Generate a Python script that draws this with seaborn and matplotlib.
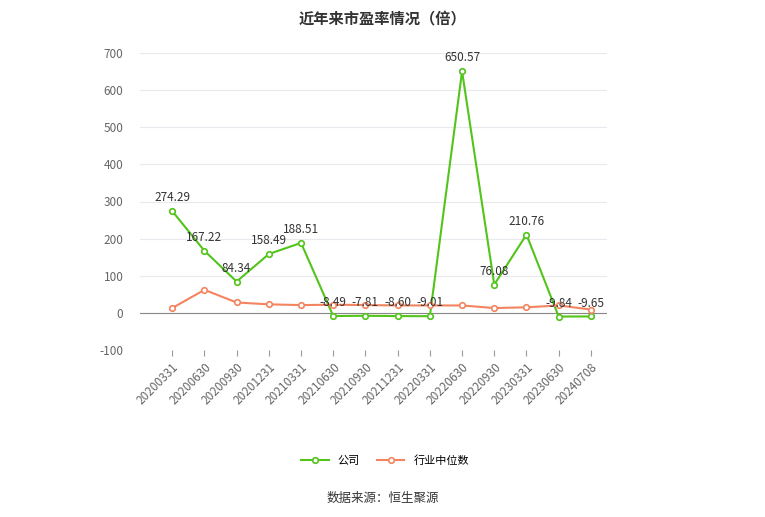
import matplotlib
matplotlib.use("Agg")
import matplotlib.pyplot as plt
import seaborn as sns
import pandas as pd

dates = ["20200331","20200630","20200930","20201231","20210331","20210630","20210930",
         "20211231","20220331","20220630","20220930","20230331","20230630","20240708"]
company = [274.29,167.22,84.34,158.49,188.51,-8.49,-7.81,-8.60,-9.01,650.57,76.08,210.76,-9.84,-9.65]
industry = [13,62,28,23,21,22,21,20,20,20,13,15,20,9]
ticks = [-100,0,100,200,300,400,500,600,700]

plt.rcParams["font.family"] = "Noto Sans CJK SC"
plt.rcParams["axes.unicode_minus"] = False
fig = plt.figure(figsize=(7.65,5.17), dpi=100)
ax = fig.add_axes([140/765, 167/517, 467/765, 297/517])
x = list(range(len(dates)))
df = pd.DataFrame({"x": x, "c": company, "i": industry})
sns.lineplot(data=df, x="x", y="c", ax=ax, color="#52c41a", lw=1.5, marker="o",
             markersize=4, markerfacecolor="white", markeredgecolor="#52c41a", markeredgewidth=1.2, label="公司")
sns.lineplot(data=df, x="x", y="i", ax=ax, color="#f4845f", lw=1.5, marker="o",
             markersize=4, markerfacecolor="white", markeredgecolor="#f4845f", markeredgewidth=1.2, label="行业中位数")
for xi, v in zip(x, company):
    ax.annotate(f"{v:.2f}", (xi, v), xytext=(0, 5), textcoords="offset points",
                ha="center", va="bottom", fontsize=8.5, color="#333333")
ax.set_xlim(-1, 13.5)
ax.set_ylim(-100, 700)
ax.set_yticks(ticks)
ax.set_xticks(x)
ax.set_xticklabels(dates, rotation=45, ha="right", rotation_mode="anchor", fontsize=8.5, color="#666666")
ax.tick_params(axis="y", labelsize=8.5, colors="#666666", length=0, pad=12)
ax.tick_params(axis="x", length=4, color="#999999")
ax.grid(axis="y", color="#e8e8ee", lw=0.8)
ax.set_axisbelow(True)
for s in ax.spines.values():
    s.set_visible(False)
ax.axhline(0, color="#888888", lw=0.8, zorder=1)
ax.set_xlabel(""); ax.set_ylabel("")
ax.legend(loc="upper center", bbox_to_anchor=((385-140)/467, -0.32), ncol=2, frameon=False,
          fontsize=8, handlelength=2.5, columnspacing=1.5)
fig.text(0.5, 0.965, "近年来市盈率情况（倍）", ha="center", va="center", fontsize=11, fontweight="bold", color="#333333")
fig.text(0.5, 0.035, "数据来源：恒生聚源", ha="center", va="center", fontsize=9, color="#333333")
fig.savefig("out.png", dpi=100)
